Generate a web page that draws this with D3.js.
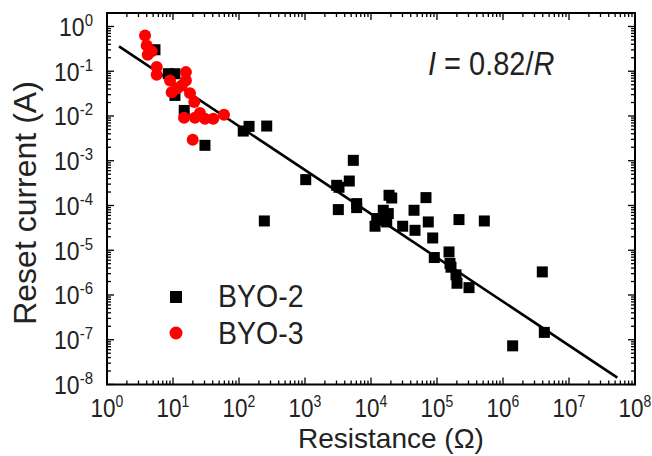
<!DOCTYPE html>
<html>
<head>
<meta charset="utf-8">
<script src="https://cdn.jsdelivr.net/npm/d3@7"></script>
<style>
  body { margin: 0; background: #fff; }
  text { font-family: "Liberation Sans", Arial, sans-serif; fill: #222; }
</style>
</head>
<body>
<div id="chart"></div>
<script>
// BYO-2 (black squares): resistance (ohm) and reset current (A)
const byo2R = [5.33, 8.49, 10.7, 10.7, 14.8, 30.5, 116, 142, 263, 242,
  1026, 3020, 3273, 4688, 3199, 5395, 6067, 6067, 18750, 20610,
  68080, 44870, 73790, 46450, 30200, 86100, 15350, 18280, 12190, 14520,
  11510, 17300, 215300, 521200, 91000, 152100, 157400, 162900, 194100, 200900,
  305500, 3.94e6, 4.23e6, 1.40e6];
const byo2I = [0.302, 0.0879, 0.0879, 0.0288, 0.0133, 0.00221, 0.0046, 0.00586, 0.00596, 4.51e-5,
  3.78e-4, 2.82e-4, 2.55e-4, 3.52e-4, 8.09e-5, 1.02e-3, 1.10e-4, 8.97e-5, 1.69e-4, 1.47e-4,
  1.50e-4, 7.82e-5, 4.29e-5, 2.79e-5, 3.44e-5, 1.88e-5, 7.82e-5, 6.59e-5, 5.11e-5, 4.68e-5,
  3.44e-5, 4.29e-5, 4.84e-5, 4.51e-5, 6.87e-6, 9.16e-6, 5.05e-6, 4.18e-6, 2.82e-6, 1.83e-6,
  1.46e-6, 3.28e-6, 1.46e-7, 7.31e-8];

// BYO-3 (red circles)
const byo3R = [3.77, 3.99, 4.75, 4.14, 5.66, 5.66, 9.02, 15.7, 15.7, 13.6,
  9.55, 18.1, 21.0, 25.6, 14.7, 21.5, 30.5, 40.8, 59.3, 19.9, 11.5];
const byo3I = [0.63, 0.377, 0.281, 0.233, 0.124, 0.0836, 0.0624, 0.0955, 0.0624, 0.0482,
  0.0341, 0.0324, 0.0204, 0.0116, 0.00916, 0.00916, 0.00871, 0.00871, 0.0107, 0.00296, 0.0413];

// fitted line I = 0.82/R, end points
const fitR = [1.52, 5.4e7];
const fitI = [0.358, 1.43e-8];

const xTickExps = [0, 1, 2, 3, 4, 5, 6, 7, 8];
const yTickExps = [0, -1, -2, -3, -4, -5, -6, -7, -8];

const width = 652, height = 456;
const plotL = 107, plotR = 635, plotT = 13, plotB = 384.5;
const stretch = 1.12; // text in the figure is slightly tall/narrow

const svg = d3.select("#chart").append("svg")
  .attr("width", width)
  .attr("height", height);

// --- scales ---
const x = d3.scaleLog().domain([1, 1e8]).range([plotL, plotR]);
const y = d3.scaleLog().domain([1e-8, 2]).range([plotB, plotT]);

// --- ticks (inward, on all four sides) ---
const majorLen = 7, minorLen = 4;
const minorX = [], minorY = [];
for (let e = 0; e < 8; e++) for (let m = 2; m <= 9; m++) minorX.push(m * Math.pow(10, e));
for (let e = -8; e <= 0; e++) for (let m = 2; m <= 9; m++) {
  const v = m * Math.pow(10, e);
  if (v <= 2) minorY.push(v);
}
const xMajor = xTickExps.map(e => Math.pow(10, e));
const yMajor = yTickExps.map(e => Math.pow(10, e));

const tickG = svg.append("g").attr("stroke", "#000").attr("stroke-width", 1.3);
function xTicks(vals, len) {
  vals.forEach(v => {
    tickG.append("line").attr("x1", x(v)).attr("x2", x(v)).attr("y1", plotB).attr("y2", plotB - len);
    tickG.append("line").attr("x1", x(v)).attr("x2", x(v)).attr("y1", plotT).attr("y2", plotT + len);
  });
}
function yTicks(vals, len) {
  vals.forEach(v => {
    tickG.append("line").attr("y1", y(v)).attr("y2", y(v)).attr("x1", plotL).attr("x2", plotL + len);
    tickG.append("line").attr("y1", y(v)).attr("y2", y(v)).attr("x1", plotR).attr("x2", plotR - len);
  });
}
xTicks(xMajor, majorLen); xTicks(minorX, minorLen);
yTicks(yMajor, majorLen); yTicks(minorY, minorLen);

// frame
svg.append("rect")
  .attr("x", plotL).attr("y", plotT)
  .attr("width", plotR - plotL).attr("height", plotB - plotT)
  .attr("fill", "none").attr("stroke", "#000").attr("stroke-width", 2);

// --- tick labels (10^n) ---
const xl = svg.append("g").selectAll("g").data(xTickExps).enter().append("g")
  .attr("transform", d => `translate(${x(Math.pow(10, d))},417) scale(1,${stretch})`)
  .append("text")
  .attr("text-anchor", "middle")
  .style("font-size", "22.5px");
xl.append("tspan").text("10");
xl.append("tspan").attr("dy", -9).style("font-size", "14px").text(d => d);

const yl = svg.append("g").selectAll("g").data(yTickExps).enter().append("g")
  .attr("transform", d => `translate(93,${y(Math.pow(10, d)) + 9.5}) scale(1,${stretch})`)
  .append("text")
  .attr("text-anchor", "end")
  .style("font-size", "23px");
yl.append("tspan").text("10");
yl.append("tspan").attr("dy", -9).style("font-size", "15px").text(d => d);

// --- axis titles ---
svg.append("text")
  .attr("x", 391).attr("y", 448)
  .attr("text-anchor", "middle")
  .style("font-size", "28px")
  .text("Resistance (\u03A9)");

svg.append("text")
  .attr("transform", "translate(36,203) rotate(-90)")
  .attr("text-anchor", "middle")
  .style("font-size", "32px")
  .text("Reset current (A)");

// --- fit line ---
const line = d3.line().x(d => x(d[0])).y(d => y(d[1]));
svg.append("path")
  .datum(fitR.map((r, i) => [r, fitI[i]]))
  .attr("fill", "none")
  .attr("stroke", "#000")
  .attr("stroke-width", 2.6)
  .attr("d", line);

// --- BYO-2 squares ---
const sq = 11;
svg.append("g").selectAll("rect").data(byo2R).enter().append("rect")
  .attr("x", (d, i) => x(d) - sq / 2)
  .attr("y", (d, i) => y(byo2I[i]) - sq / 2)
  .attr("width", sq).attr("height", sq)
  .attr("fill", "#000");

// --- BYO-3 circles ---
svg.append("g").selectAll("circle").data(byo3R).enter().append("circle")
  .attr("cx", (d, i) => x(d))
  .attr("cy", (d, i) => y(byo3I[i]))
  .attr("r", 6)
  .attr("fill", "#ff0000");

// --- annotation ---
const ann = svg.append("g")
  .attr("transform", `translate(428,75) scale(1,${stretch})`)
  .append("text").style("font-size", "29px");
ann.append("tspan").style("font-style", "italic").text("I");
ann.append("tspan").text(" = 0.82/");
ann.append("tspan").style("font-style", "italic").text("R");

// --- legend ---
const legend = svg.append("g");
legend.append("rect").attr("x", 170).attr("y", 291).attr("width", 12).attr("height", 12).attr("fill", "#000");
legend.append("g").attr("transform", "translate(218,307) scale(1,1.08)")
  .append("text").style("font-size", "28.5px").text("BYO-2");
legend.append("circle").attr("cx", 176).attr("cy", 333).attr("r", 6.5).attr("fill", "#ff0000");
legend.append("g").attr("transform", "translate(218,344) scale(1,1.08)")
  .append("text").style("font-size", "28.5px").text("BYO-3");
</script>
</body>
</html>
